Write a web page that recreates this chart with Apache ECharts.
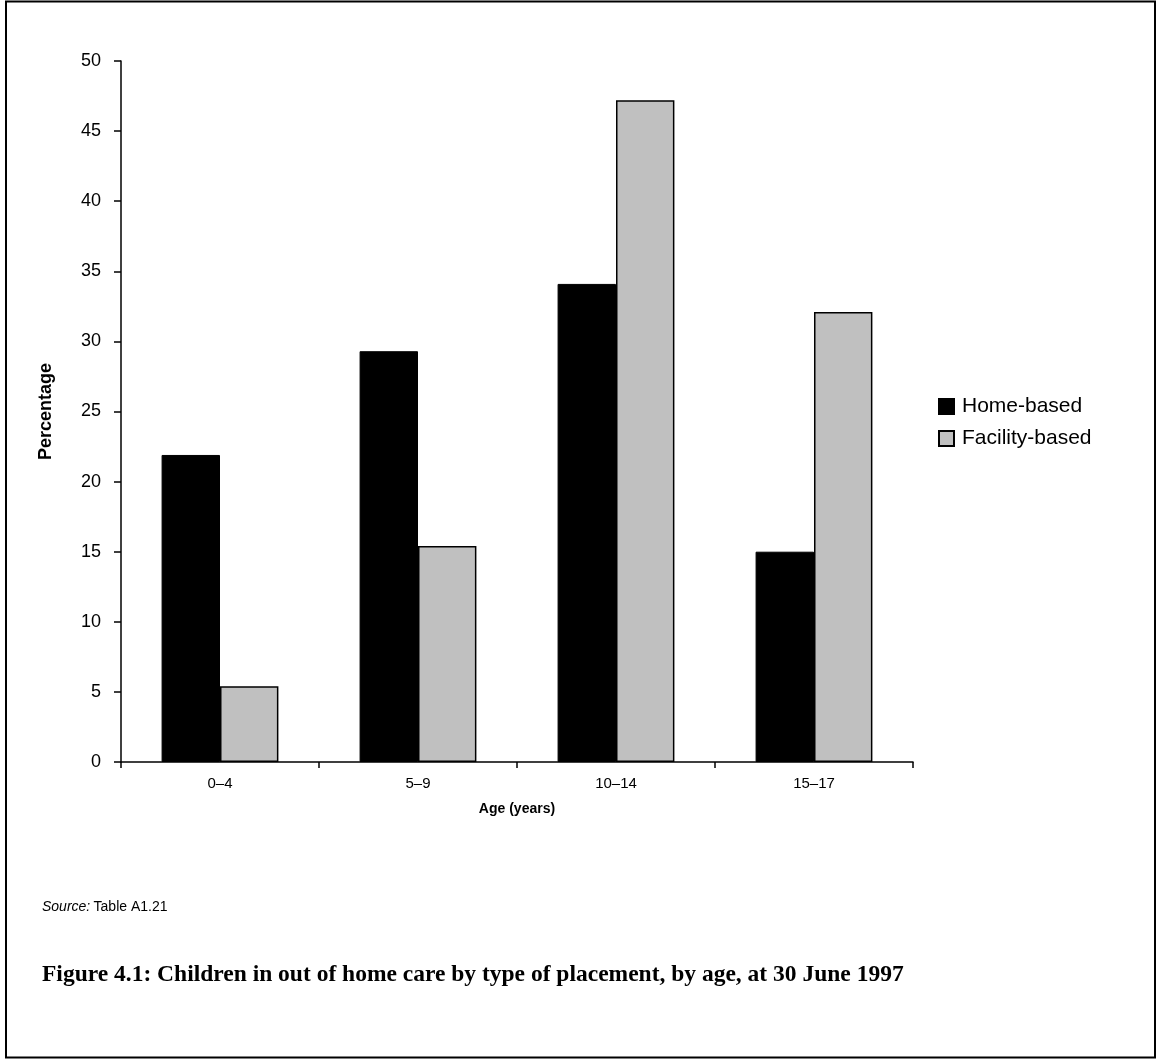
<!DOCTYPE html>
<html>
<head>
<meta charset="utf-8">
<script src="https://cdn.jsdelivr.net/npm/echarts@6/dist/echarts.min.js"></script>
<style>
  html, body { margin: 0; padding: 0; background: #fff; }
  #chart { width: 1157px; height: 1059px; }
</style>
</head>
<body>
<div id="chart"></div>
<script>
// Age groups and percentage of children in each placement type
const ageGroups = ['0–4', '5–9', '10–14', '15–17'];
const homeBased = [21.9, 29.3, 34.1, 15.0];
const facilityBased = [5.4, 15.4, 47.2, 32.1];
const seriesNames = ['Home-based', 'Facility-based'];

const chart = echarts.init(document.getElementById('chart'), null, { renderer: 'canvas' });

const sans = 'Liberation Sans, Arial, sans-serif';

chart.setOption({
  backgroundColor: '#fff',
  animation: false,
  grid: { left: 121, top: 61, right: 244, bottom: 297, containLabel: false },
  legend: {
    orient: 'vertical',
    left: 933,
    top: 391,
    itemWidth: 15,
    itemHeight: 15,
    itemGap: 11,
    icon: 'rect',
    textStyle: { fontFamily: sans, fontSize: 21, color: '#000', padding: [3, 0, 0, 3] },
    data: seriesNames
  },
  xAxis: {
    type: 'category',
    data: ageGroups,
    name: 'Age (years)',
    nameLocation: 'middle',
    nameGap: 40,
    nameTextStyle: { fontFamily: sans, fontSize: 14, fontWeight: 'bold', color: '#000' },
    axisLine: { lineStyle: { color: '#000', width: 1.5 } },
    axisTick: { show: true, length: 6, lineStyle: { color: '#000', width: 1.5 } },
    axisLabel: { fontFamily: sans, fontSize: 15, color: '#000', margin: 14 },
    splitLine: { show: false }
  },
  yAxis: {
    type: 'value',
    min: 0,
    max: 50,
    interval: 5,
    name: 'Percentage',
    nameLocation: 'middle',
    nameGap: 66,
    nameRotate: 90,
    nameTextStyle: { fontFamily: sans, fontSize: 18, fontWeight: 'bold', color: '#000' },
    axisLine: { show: true, lineStyle: { color: '#000', width: 1.5 } },
    axisTick: { show: true, length: 7, lineStyle: { color: '#000', width: 1.5 } },
    axisLabel: { fontFamily: sans, fontSize: 18, color: '#000', margin: 20 },
    splitLine: { show: false }
  },
  series: [
    {
      name: seriesNames[0],
      type: 'bar',
      data: homeBased,
      barGap: '0%',
      barCategoryGap: '41%',
      itemStyle: { color: '#000', borderColor: '#000', borderWidth: 1 }
    },
    {
      name: seriesNames[1],
      type: 'bar',
      data: facilityBased,
      barGap: '0%',
      barCategoryGap: '41%',
      itemStyle: { color: '#c0c0c0', borderColor: '#000', borderWidth: 1.5 }
    }
  ],
  graphic: [
    {
      type: 'rect',
      shape: { x: 6, y: 1.5, width: 1149, height: 1056 },
      style: { fill: 'none', stroke: '#000', lineWidth: 2 },
      silent: true
    },
    {
      type: 'text',
      left: 42,
      top: 900,
      style: {
        rich: {
          i: { fontFamily: sans, fontSize: 14, fontStyle: 'italic', fill: '#000' },
          n: { fontFamily: sans, fontSize: 14, fill: '#000' }
        },
        text: '{i|Source:} {n|Table A1.21}'
      }
    },
    {
      type: 'text',
      left: 42,
      top: 963,
      style: {
        text: 'Figure 4.1: Children in out of home care by type of placement, by age, at 30 June 1997',
        fontFamily: 'Liberation Serif, DejaVu Serif, serif',
        fontSize: 23.5,
        fontWeight: 'bold',
        fill: '#000'
      }
    }
  ]
});
</script>
</body>
</html>
